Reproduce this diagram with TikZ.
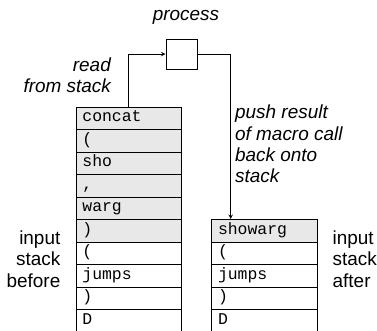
\documentclass[tikz,border=0pt]{standalone}
\usepackage{fontspec}
\setmainfont{Liberation Sans}
\setmonofont{Liberation Mono}
\usetikzlibrary{arrows}
\tikzstyle{cell} = [rectangle, minimum width=105.5bp, minimum height=22.5bp, inner sep=0pt, text width=93bp, text height=10bp, text depth=3bp, align=left, draw=black, line width=1bp, font=\ttfamily\fontsize{16.5}{18}\selectfont]
\tikzstyle{used} = [cell, fill=black!9]
\tikzstyle{fresh} = [cell, fill=white]
\tikzstyle{box} = [rectangle, minimum width=31bp, minimum height=30bp, draw=black, line width=1bp]
\tikzstyle{note} = [inner sep=0pt, font=\itshape\fontsize{19}{21.5}\selectfont]
\tikzstyle{side} = [inner sep=0pt, font=\fontsize{19}{21.5}\selectfont]
\tikzstyle{arrow} = [line width=1bp,->,>=stealth]

\begin{document}
\begin{tikzpicture}[node distance=22.5bp, x=1bp, y=1bp]
	\useasboundingbox (0,0) rectangle (377,-331);
	\node (proc) [box] at (181.5,-54) {};
	\node (proclabel) [note, above of=proc, node distance=37bp, xshift=4.5bp] {process};
	% stack before
	\node (b1) [used] at (128.9,-118.25) {concat};
	\node (b2) [used, below of=b1] {(};
	\node (b3) [used, below of=b2] {sho};
	\node (b4) [used, below of=b3] {,};
	\node (b5) [used, below of=b4] {warg};
	\node (b6) [used, below of=b5] {)};
	\node (b7) [fresh, below of=b6] {(};
	\node (b8) [fresh, below of=b7] {jumps};
	\node (b9) [fresh, below of=b8] {)};
	\node (b10) [fresh, below of=b9] {D};
	% stack after
	\node (a1) [used, right of=b6, node distance=135.6bp] {showarg};
	\node (a2) [fresh, below of=a1] {(};
	\node (a3) [fresh, below of=a2] {jumps};
	\node (a4) [fresh, below of=a3] {)};
	\node (a5) [fresh, below of=a4] {D};
	\coordinate (push) at ([xshift=-33.8bp]a1.north);
		\draw [arrow] (b1.north) |- (proc.west);
		\draw [arrow] (proc.east) -| (push);
	\node (readlbl) [note, align=right, anchor=east] at (111,-75) {read\\from stack};
	\node (pushlbl) [note, align=left, anchor=west] at (235,-144) {push result\\of macro call\\back onto\\stack};
	\node (beforelbl) [side, align=right, anchor=east] at (60.5,-259) {input\\stack\\before};
	\node (afterlbl) [side, align=left, anchor=west] at (332.5,-259) {input\\stack\\after};
\end{tikzpicture}
\end{document}
